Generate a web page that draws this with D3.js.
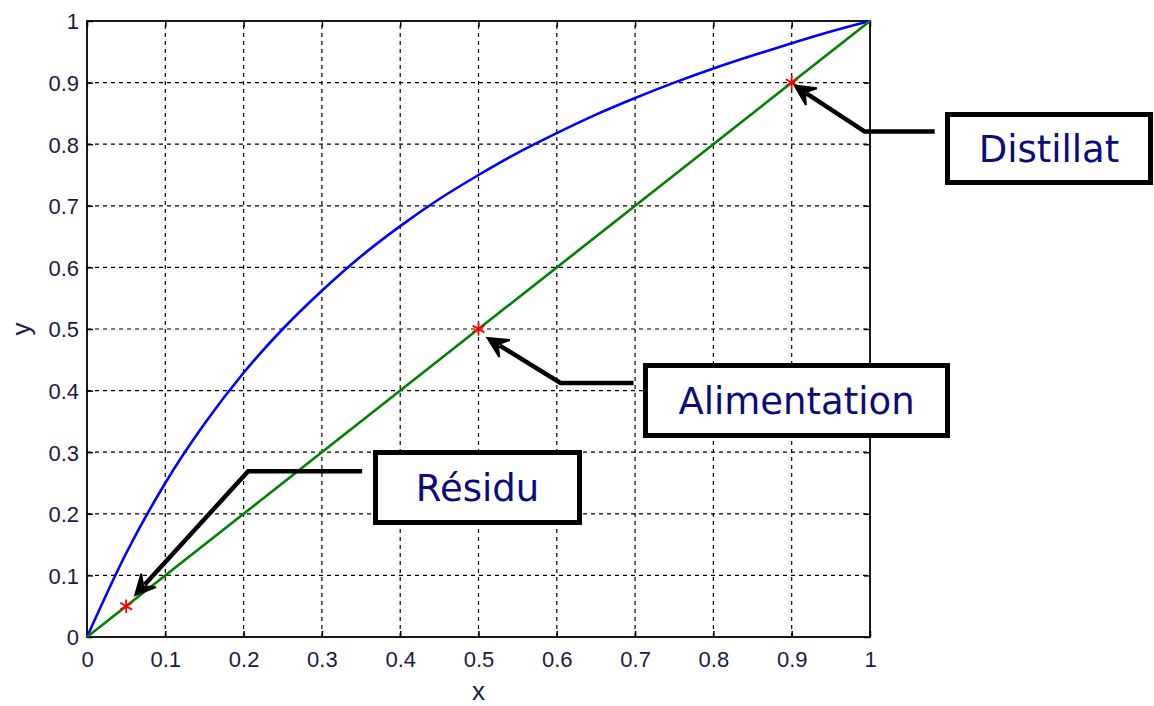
<!DOCTYPE html>
<html>
<head>
<meta charset="utf-8">
<script src="https://cdn.jsdelivr.net/npm/d3@7"></script>
<style>
  html, body { margin: 0; padding: 0; background: #fff; }
  svg { display: block; }
</style>
</head>
<body>
<div id="container"></div>
<script>
// equilibrium curve (x, y)
const curveX = [0, 0.05, 0.1, 0.15, 0.2, 0.25, 0.3, 0.35, 0.4, 0.45, 0.5, 0.55, 0.6, 0.65, 0.7, 0.75, 0.8, 0.85, 0.9, 0.95, 1];
const curveY = [0, 0.136, 0.25, 0.346, 0.429, 0.5, 0.562, 0.618, 0.667, 0.711, 0.75, 0.786, 0.818, 0.848, 0.875, 0.9, 0.923, 0.944, 0.964, 0.983, 1];

// diagonal y = x
const diagX = [0, 1];
const diagY = [0, 1];

// marked points
const pointNames = ['Résidu', 'Alimentation', 'Distillat'];
const pointX = [0.05, 0.5, 0.9];
const pointY = [0.05, 0.5, 0.9];

const tickValues = [0, 0.1, 0.2, 0.3, 0.4, 0.5, 0.6, 0.7, 0.8, 0.9, 1];

const width = 1154, height = 706;
const margin = { top: 21, right: 284, bottom: 69, left: 87 };
const iw = width - margin.left - margin.right;
const ih = height - margin.top - margin.bottom;

const svg = d3.select('#container').append('svg')
    .attr('width', width)
    .attr('height', height);

const x = d3.scaleLinear().domain([0, 1]).range([margin.left, margin.left + iw]);
const y = d3.scaleLinear().domain([0, 1]).range([margin.top + ih, margin.top]);

const tickColor = '#1a1a44';

/* grid */
const grid = svg.append('g').attr('class', 'grid')
    .attr('stroke', '#000')
    .attr('stroke-width', 1.2)
    .attr('stroke-dasharray', '4,4');
grid.selectAll('.gx').data(tickValues.slice(1, -1)).enter().append('line')
    .attr('x1', d => x(d)).attr('x2', d => x(d))
    .attr('y1', y(0)).attr('y2', y(1));
grid.selectAll('.gy').data(tickValues.slice(1, -1)).enter().append('line')
    .attr('y1', d => y(d)).attr('y2', d => y(d))
    .attr('x1', x(0)).attr('x2', x(1));

/* axes, ticks pointing inwards */
const fmt = d => d === 0 ? '0' : d === 1 ? '1' : d3.format('.1f')(d);
const axisStyle = (g) => {
    g.select('.domain').remove();
    g.selectAll('line').attr('stroke', '#000').attr('stroke-width', 1.5);
    g.selectAll('text')
        .attr('fill', tickColor)
        .attr('font-family', 'Liberation Sans, Arial, sans-serif')
        .attr('font-size', '22px');
};
svg.append('g')
    .attr('transform', `translate(0,${y(0)})`)
    .call(d3.axisBottom(x).tickValues(tickValues).tickFormat(fmt).tickSizeInner(-6).tickSizeOuter(0).tickPadding(14))
    .call(axisStyle);
svg.append('g')
    .attr('transform', `translate(${x(0)},0)`)
    .call(d3.axisLeft(y).tickValues(tickValues).tickFormat(fmt).tickSizeInner(-6).tickSizeOuter(0).tickPadding(8))
    .call(axisStyle)
    .selectAll('text').attr('dy', '0.36em');
svg.append('g')
    .attr('transform', `translate(0,${y(1)})`)
    .call(d3.axisTop(x).tickValues(tickValues).tickFormat('').tickSizeInner(-6).tickSizeOuter(0))
    .call(axisStyle);
svg.append('g')
    .attr('transform', `translate(${x(1)},0)`)
    .call(d3.axisRight(y).tickValues(tickValues).tickFormat('').tickSizeInner(-6).tickSizeOuter(0))
    .call(axisStyle);

/* frame */
svg.append('rect')
    .attr('x', x(0)).attr('y', y(1))
    .attr('width', iw).attr('height', ih)
    .attr('fill', 'none')
    .attr('stroke', '#000')
    .attr('stroke-width', 1.8);

/* axis labels */
svg.append('text')
    .attr('x', x(0.5)).attr('y', 700)
    .attr('text-anchor', 'middle')
    .attr('fill', tickColor)
    .attr('font-family', 'Liberation Sans, Arial, sans-serif')
    .attr('font-size', '26px')
    .text('x');
svg.append('text')
    .attr('transform', `translate(30,${y(0.5)}) rotate(-90)`)
    .attr('text-anchor', 'middle')
    .attr('fill', tickColor)
    .attr('font-family', 'Liberation Sans, Arial, sans-serif')
    .attr('font-size', '26px')
    .text('y');

/* curves */
const line = d3.line().x(d => x(d[0])).y(d => y(d[1]));
svg.append('path')
    .datum(d3.zip(curveX, curveY))
    .attr('d', line.curve(d3.curveMonotoneX))
    .attr('fill', 'none')
    .attr('stroke', '#0000ff')
    .attr('stroke-width', 2.6);
svg.append('path')
    .datum(d3.zip(diagX, diagY))
    .attr('d', d3.line().x(d => x(d[0])).y(d => y(d[1])))
    .attr('fill', 'none')
    .attr('stroke', '#008000')
    .attr('stroke-width', 2.6);

/* red star markers */
svg.append('g').selectAll('path')
    .data(d3.zip(pointX, pointY))
    .enter().append('path')
    .attr('transform', d => `translate(${x(d[0])},${y(d[1])})`)
    .attr('d', d3.symbol().type(d3.symbolAsterisk).size(130))
    .attr('fill', 'none')
    .attr('stroke', '#ff0000')
    .attr('stroke-width', 1.8);

/* annotations: offsets in px relative to the marked point */
const annotations = [
    { name: pointNames[0], px: pointX[0], py: pointY[0], tip: [9, -11], bend: [122, -135], start: [236, -135], box: [373, 450, 209, 75] },
    { name: pointNames[1], px: pointX[1], py: pointY[1], tip: [9, 9], bend: [82, 54], start: [155, 54], box: [643, 363, 307, 75] },
    { name: pointNames[2], px: pointX[2], py: pointY[2], tip: [3, 3], bend: [73, 49], start: [143, 49], box: [945, 112, 208, 73] }
];

const ann = svg.append('g').attr('class', 'annotations');
annotations.forEach(a => {
    const cx = x(a.px), cy = y(a.py);
    const tip = [cx + a.tip[0], cy + a.tip[1]];
    const bend = [cx + a.bend[0], cy + a.bend[1]];
    const start = [cx + a.start[0], cy + a.start[1]];

    // shaft, stopping short of the head
    const ang = Math.atan2(tip[1] - bend[1], tip[0] - bend[0]);
    const headLen = 20, headW = 10;
    const back = [tip[0] - Math.cos(ang) * headLen * 0.7, tip[1] - Math.sin(ang) * headLen * 0.7];
    ann.append('path')
        .attr('d', `M${start[0]},${start[1]}L${bend[0]},${bend[1]}L${back[0]},${back[1]}`)
        .attr('fill', 'none')
        .attr('stroke', '#000')
        .attr('stroke-width', 4.5)
        .attr('stroke-linejoin', 'miter');

    // head (vback shape)
    const bx = tip[0] - Math.cos(ang) * headLen, by = tip[1] - Math.sin(ang) * headLen;
    const nx = -Math.sin(ang), ny = Math.cos(ang);
    const notch = [tip[0] - Math.cos(ang) * headLen * 0.6, tip[1] - Math.sin(ang) * headLen * 0.6];
    ann.append('path')
        .attr('d', `M${tip[0]},${tip[1]}L${bx + nx * headW},${by + ny * headW}L${notch[0]},${notch[1]}L${bx - nx * headW},${by - ny * headW}Z`)
        .attr('fill', '#000')
        .attr('stroke', '#000')
        .attr('stroke-width', 2)
        .attr('stroke-linejoin', 'miter');

    // text box
    const [bx0, by0, bw, bh] = a.box;
    ann.append('rect')
        .attr('x', bx0 + 2.5).attr('y', by0 + 2.5)
        .attr('width', bw - 5).attr('height', bh - 5)
        .attr('fill', '#fff')
        .attr('stroke', '#000')
        .attr('stroke-width', 5);
    ann.append('text')
        .attr('x', bx0 + bw / 2)
        .attr('y', by0 + bh / 2)
        .attr('dy', '0.36em')
        .attr('text-anchor', 'middle')
        .attr('fill', '#0c0c78')
        .attr('font-family', 'DejaVu Sans, Verdana, sans-serif')
        .attr('font-size', '37px')
        .text(a.name);
});
</script>
</body>
</html>
